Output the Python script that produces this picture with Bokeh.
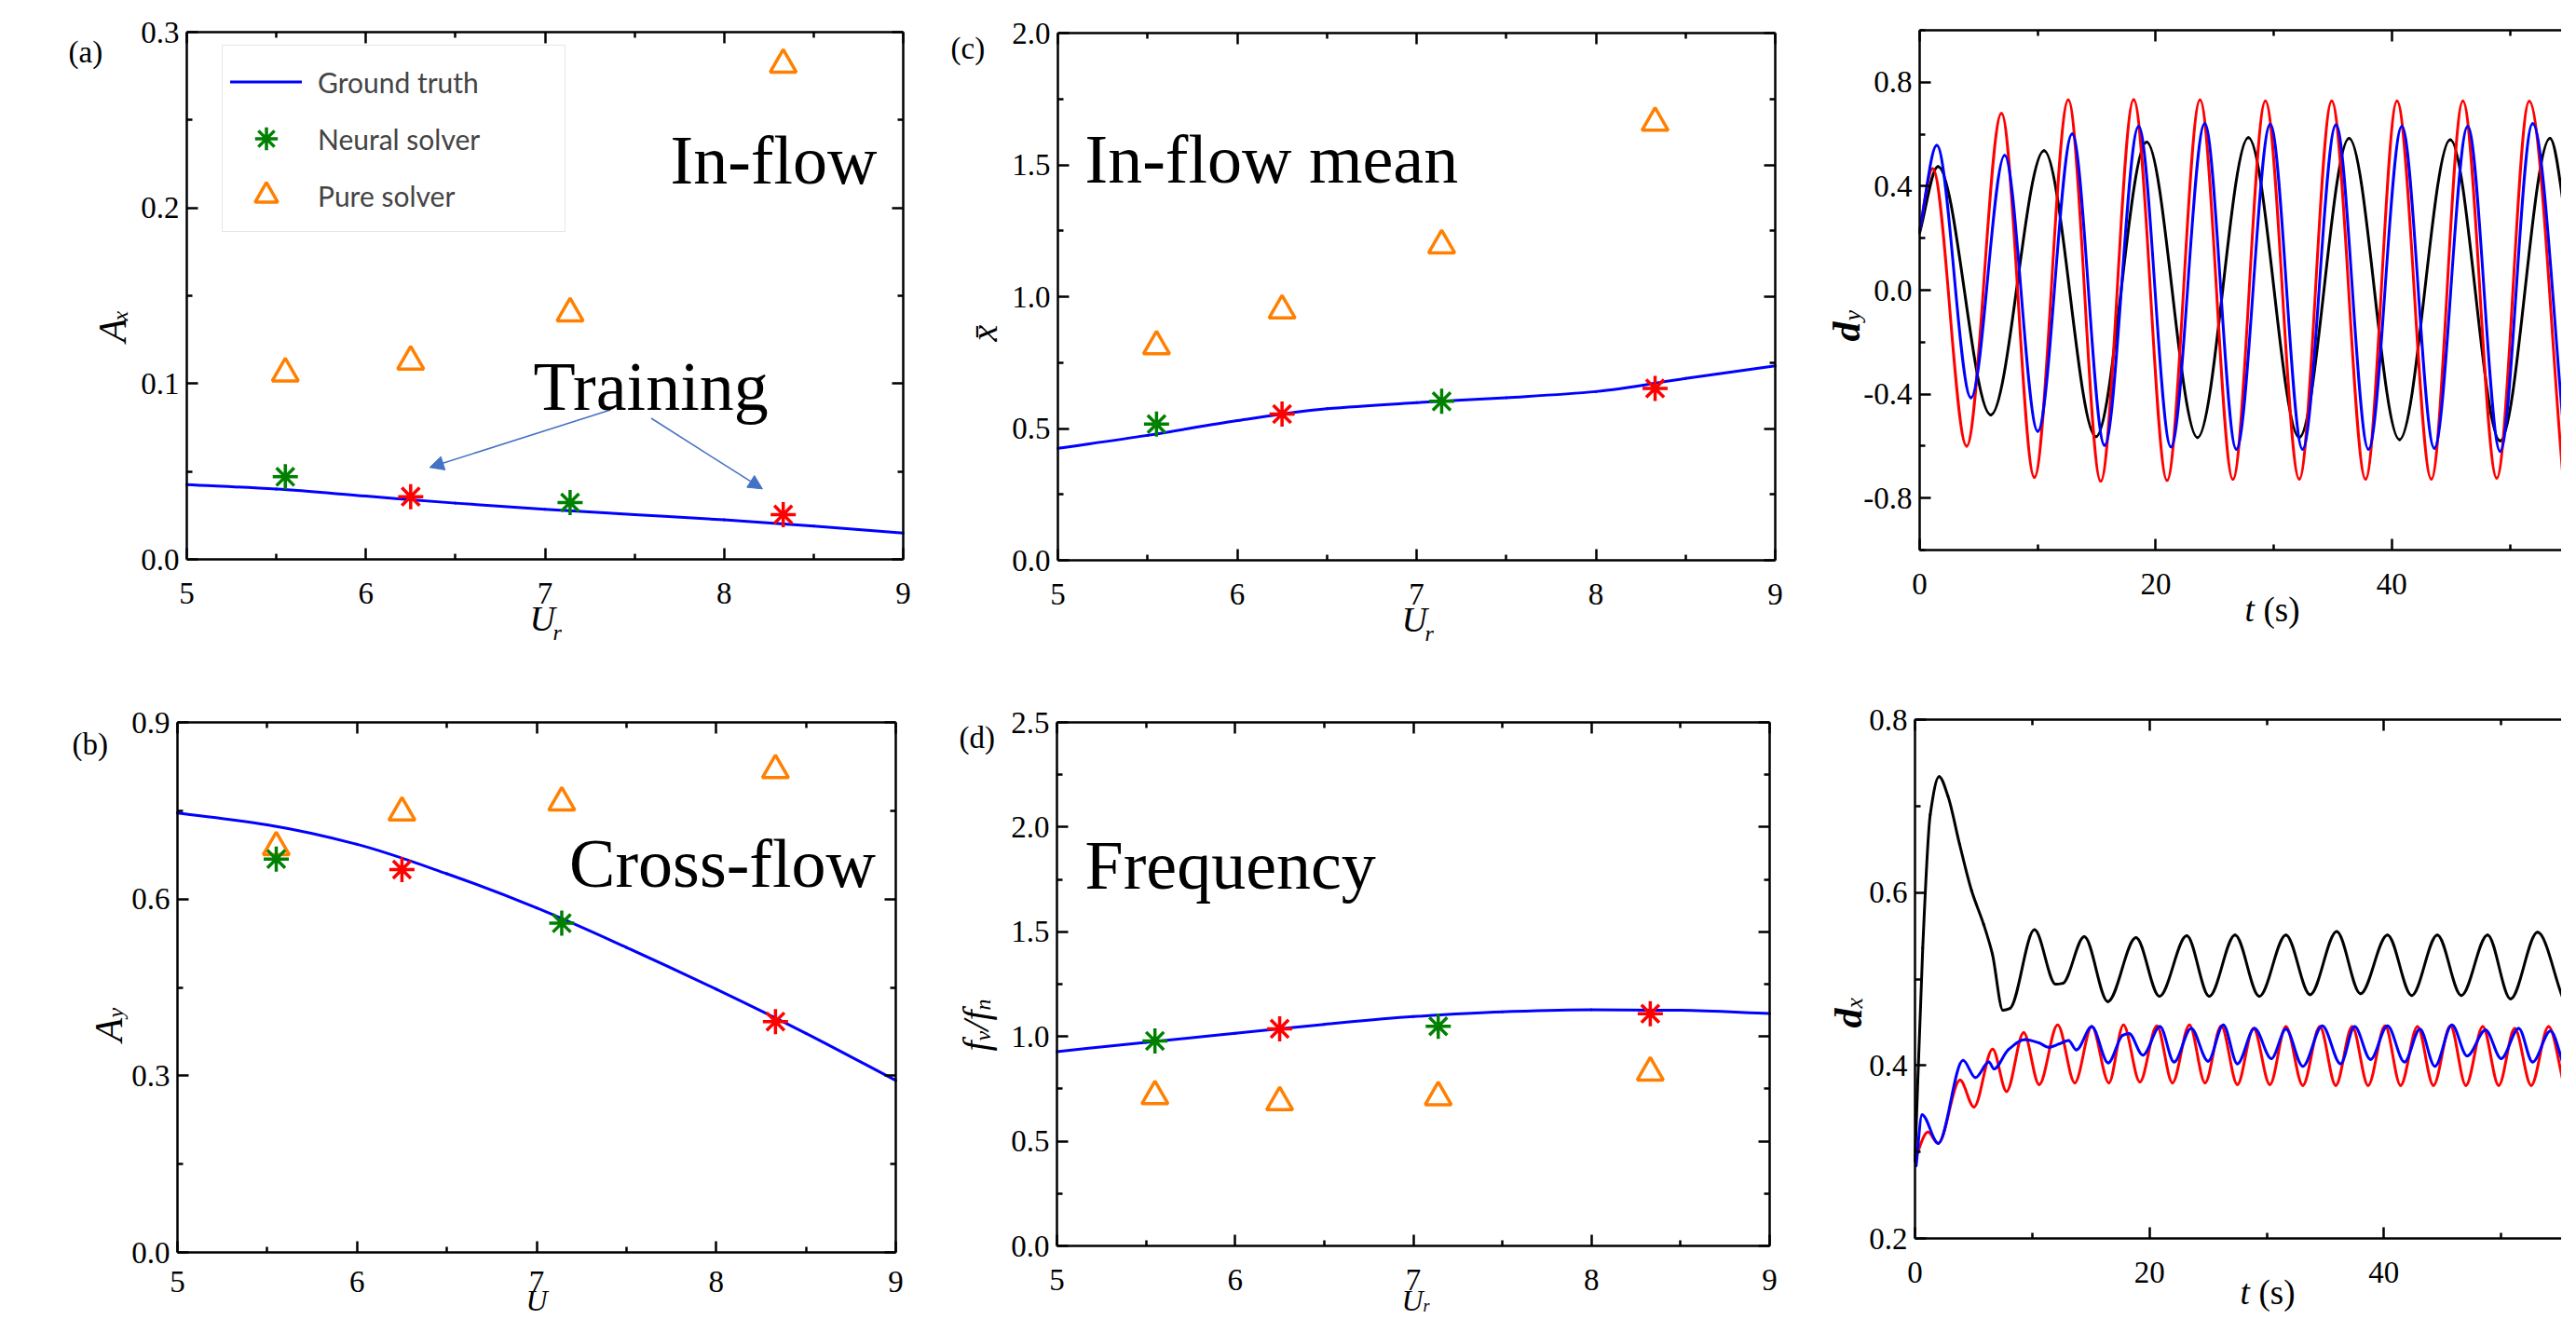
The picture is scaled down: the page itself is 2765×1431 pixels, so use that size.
import math
from bokeh.plotting import figure
from bokeh.models import (Range1d, LinearAxis, FixedTicker, PrintfTickFormatter,
                          CustomJSTickFormatter, Label, Legend, LegendItem, Arrow, NormalHead)
from bokeh.layouts import row, column
from bokeh.embed import file_html
from bokeh.resources import INLINE

# ---------------- data ----------------
ur_truth = [5.0, 5.5, 6.0, 6.5, 7.0, 7.5, 8.0, 8.5, 9.0]
ur_neural = [5.55, 7.14]
ur_train = [6.25, 8.33]
ur_pure = [5.55, 6.25, 7.14, 8.33]

ax_truth = [0.0425, 0.040, 0.036, 0.032, 0.0285, 0.0255, 0.0225, 0.019, 0.015]
ax_neural = [0.047, 0.0323]
ax_train = [0.0357, 0.0255]
ax_pure = [0.1058, 0.1126, 0.140, 0.2815]

ay_truth = [0.746, 0.726, 0.693, 0.643, 0.585, 0.518, 0.447, 0.372, 0.292]
ay_neural = [0.668, 0.559]
ay_train = [0.650, 0.392]
ay_pure = [0.688, 0.747, 0.764, 0.819]

xm_truth = [0.425, 0.474, 0.530, 0.575, 0.598, 0.617, 0.640, 0.690, 0.738]
xm_neural = [0.517, 0.603]
xm_train = [0.555, 0.652]
xm_pure = [0.812, 0.948, 1.195, 1.660]

fr_truth = [0.928, 0.972, 1.015, 1.058, 1.095, 1.118, 1.128, 1.125, 1.110]
fr_neural = [0.979, 1.049]
fr_train = [1.037, 1.109]
fr_pure = [0.715, 0.686, 0.710, 0.828]

# "Training" arrows (start -> end, data units of panel a)
arrow_x0 = [7.366, 7.593]
arrow_y0 = [0.0851, 0.0803]
arrow_x1 = [6.356, 8.214]
arrow_y1 = [0.0523, 0.0401]

# cross-flow displacement d_y(t): start point and extremes of each curve
dy_red_t = [0.0, 1.1, 3.98, 6.93, 9.72, 12.59, 15.34, 18.13, 20.96, 23.75, 26.54, 29.29,
            32.16, 34.91, 37.78, 40.44, 43.35, 46.02, 48.89, 51.64, 54.51]
dy_red = [0.23, 0.468, -0.600, 0.680, -0.720, 0.732, -0.735, 0.733, -0.732, 0.732, -0.728,
          0.728, -0.727, 0.728, -0.727, 0.728, -0.727, 0.728, -0.723, 0.727, -0.723]
dy_blue_t = [0.0, 1.45, 4.35, 7.2, 10.01, 12.92, 15.67, 18.55, 21.29, 24.15, 26.83, 29.70,
             32.44, 35.27, 38.02, 40.85, 43.6, 46.43, 49.18, 51.93, 54.72]
dy_blue = [0.23, 0.557, -0.414, 0.519, -0.543, 0.601, -0.597, 0.630, -0.603, 0.641, -0.612,
           0.638, -0.612, 0.636, -0.612, 0.630, -0.608, 0.630, -0.620, 0.641, -0.617]
dy_black_t = [0.0, 1.55, 6.03, 10.54, 14.93, 19.23, 23.54, 27.85, 32.16, 36.38, 40.65,
              44.95, 49.18, 53.4, 55.05]
dy_black = [0.22, 0.476, -0.480, 0.537, -0.564, 0.570, -0.567, 0.587, -0.567, 0.584,
            -0.575, 0.579, -0.580, 0.584, 0.17]

# in-line displacement d_x(t)
dx_red_t = [0.0, 1.1, 1.98, 3.84, 5.03, 6.62, 7.81, 9.27, 10.59, 12.17, 13.63, 15.08, 16.54,
            17.78, 19.18, 20.63, 21.96, 23.41, 24.74, 26.12, 27.5, 28.87, 30.27, 31.64, 33.08,
            34.53, 35.89, 37.29, 38.65, 40.1, 41.42, 42.86, 44.22, 45.67, 46.99, 48.43, 49.79,
            51.15, 52.56, 54.04, 55.36]
dx_red = [0.292, 0.323, 0.310, 0.383, 0.352, 0.419, 0.370, 0.438, 0.378, 0.447, 0.380, 0.445,
          0.380, 0.447, 0.381, 0.446, 0.380, 0.447, 0.380, 0.446, 0.378, 0.443, 0.378, 0.445,
          0.377, 0.445, 0.377, 0.445, 0.377, 0.446, 0.377, 0.445, 0.377, 0.446, 0.377, 0.445,
          0.377, 0.443, 0.377, 0.445, 0.377]
dx_blue_t = [0.1, 0.6, 1.98, 4.1, 5.16, 6.3, 6.75, 7.94, 9.39, 10.6, 11.4, 12.3, 13.1, 13.76,
             15.08, 16.48, 17.72, 18.25, 19.44, 20.9, 22.1, 23.55, 25.0, 26.3, 27.5, 28.96,
             30.4, 31.64, 33.08, 34.74, 36.3, 37.5, 38.86, 40.3, 41.75, 43.07, 44.35, 45.8,
             47.1, 48.67, 50.0, 51.5, 52.68, 54.2, 55.36]
dx_blue = [0.284, 0.343, 0.310, 0.406, 0.386, 0.404, 0.396, 0.418, 0.430, 0.426, 0.421, 0.425,
           0.429, 0.418, 0.445, 0.403, 0.435, 0.437, 0.412, 0.445, 0.404, 0.443, 0.405, 0.447,
           0.402, 0.443, 0.408, 0.442, 0.399, 0.446, 0.402, 0.445, 0.407, 0.446, 0.404, 0.442,
           0.399, 0.447, 0.411, 0.441, 0.408, 0.443, 0.404, 0.440, 0.399]
dx_black_t = [0.0, 0.66, 1.3, 2.06, 2.8, 3.8, 4.83, 5.86, 6.6, 7.5, 8.1, 10.19, 12.0, 12.6,
              14.44, 16.45, 18.85, 20.85, 23.18, 25.1, 27.3, 29.37, 31.64, 33.7, 35.97, 38.0,
              40.3, 42.37, 44.55, 46.6, 48.84, 50.8, 53.1, 55.2]
dx_black = [0.289, 0.536, 0.69, 0.734, 0.712, 0.656, 0.602, 0.563, 0.529, 0.464, 0.466, 0.557,
            0.494, 0.495, 0.549, 0.474, 0.548, 0.480, 0.550, 0.480, 0.551, 0.480, 0.551, 0.482,
            0.555, 0.483, 0.551, 0.481, 0.551, 0.481, 0.551, 0.477, 0.554, 0.480]

ur_ticks = [5, 6, 7, 8, 9]
ur_minor = [5.5, 6.5, 7.5, 8.5]
t_ticks = [0, 20, 40, 60]
t_minor = [10, 30, 50]

# ---------------- styling ----------------
SERIF = "Liberation Serif"
BLUE = "#0000FF"
GREEN = "#008000"
RED = "#FF0000"
ORANGE = "#FF8000"
ARROW = "#4472C4"
HALF = math.pi / 2


def make_fig(canvas, box, xdata, ydata):
    """canvas = (page_x, page_y, width, height); box = (left, top, right, bottom) page px
    of the axes box; xdata / ydata = data values at the box edges."""
    cx, cy, W, H = canvas
    bl, bt, br, bb = box
    x0, x1 = xdata
    y0, y1 = ydata
    sx = (br - bl) / (x1 - x0)
    sy = (bb - bt) / (y1 - y0)
    xr = Range1d(x0 - (bl - cx) / sx, x1 + (cx + W - br) / sx)
    yr = Range1d(y0 - (cy + H - bb) / sy, y1 + (bt - cy) / sy)
    p = figure(x_range=xr, y_range=yr, frame_width=W, frame_height=H,
               min_border_left=0, min_border_right=0, min_border_top=0, min_border_bottom=0,
               toolbar_location=None, output_backend="svg", title=None,
               background_fill_color="white", border_fill_color="white",
               x_axis_location=None, y_axis_location=None)
    p.xgrid.visible = False
    p.ygrid.visible = False
    p.outline_line_color = None
    p._frame_px = (bl, bb)
    p._box = (x0, x1, y0, y1)
    return p


def make_axis(ticks, minor, fmt, labels, standoff, loc, bounds):
    ax = LinearAxis(fixed_location=loc, bounds=bounds)
    ax.ticker = FixedTicker(ticks=ticks, minor_ticks=minor)
    ax.formatter = PrintfTickFormatter(format=fmt) if labels else CustomJSTickFormatter(code="return ''")
    ax.axis_line_width = 2.5
    ax.axis_line_color = "black"
    ax.major_tick_line_width = 2.5
    ax.minor_tick_line_width = 2.5
    ax.major_tick_line_color = "black"
    ax.minor_tick_line_color = "black"
    ax.major_tick_in = 12
    ax.major_tick_out = 0
    ax.minor_tick_in = 6
    ax.minor_tick_out = 0
    ax.major_label_text_font = SERIF
    ax.major_label_text_font_style = "normal"
    ax.major_label_text_font_size = "33px"
    ax.major_label_text_color = "black"
    ax.major_label_standoff = standoff
    ax.axis_label = None
    return ax


def frame_axes(p, xt, xm, xf, yt, ym, yf, right=True, xstand=25, ystand=8):
    x0, x1, y0, y1 = p._box
    p.add_layout(make_axis(xt, xm, xf, True, xstand, y0, (x0, x1)), "below")
    p.add_layout(make_axis(yt, ym, yf, True, ystand, x0, (y0, y1)), "left")
    p.add_layout(make_axis(xt, xm, xf, False, 0, y1, (x0, x1)), "above")
    if right:
        p.add_layout(make_axis(yt, ym, yf, False, 0, x1, (y0, y1)), "right")


def put(p, px, py, text, size, style="normal", angle=0.0, font=SERIF, color="black"):
    """Text whose baseline starts at page pixel (px, py); small corrections for the
    renderer's baseline placement."""
    fl, fb = p._frame_px
    x0, x1, y0, y1 = p._box
    if angle == 0.0:
        py = py - 0.18 * size
    else:
        py = py + 10
    p.add_layout(Label(x=x0, y=y0, x_units="data", y_units="data",
                       x_offset=px - fl, y_offset=fb - py, text=text, text_font=font,
                       text_font_size=f"{size}px", text_font_style=style, angle=angle,
                       text_align="left", text_baseline="alphabetic", text_color=color))


def smooth(p, xs, ys, color, width=3):
    """Draw a smooth curve through the read points with Bokeh's Bezier glyph
    (shape-preserving tangents, flat at the extremes)."""
    n = len(xs)
    m = []
    for i in range(n):
        if i == 0:
            m.append((ys[1] - ys[0]) / (xs[1] - xs[0]))
        elif i == n - 1:
            m.append((ys[-1] - ys[-2]) / (xs[-1] - xs[-2]))
        else:
            h0 = xs[i] - xs[i - 1]
            h1 = xs[i + 1] - xs[i]
            d0 = (ys[i] - ys[i - 1]) / h0
            d1 = (ys[i + 1] - ys[i]) / h1
            if d0 * d1 <= 0:
                m.append(0.0)
            else:
                w1 = 2 * h1 + h0
                w2 = h1 + 2 * h0
                m.append((w1 + w2) / (w1 / d0 + w2 / d1))
    hs = [xs[i + 1] - xs[i] for i in range(n - 1)]
    return p.bezier(x0=xs[:-1], y0=ys[:-1], x1=xs[1:], y1=ys[1:],
                    cx0=[xs[i] + hs[i] / 3 for i in range(n - 1)],
                    cy0=[ys[i] + m[i] * hs[i] / 3 for i in range(n - 1)],
                    cx1=[xs[i + 1] - hs[i] / 3 for i in range(n - 1)],
                    cy1=[ys[i + 1] - m[i + 1] * hs[i] / 3 for i in range(n - 1)],
                    line_color=color, line_width=width, line_cap="round")


def summary_panel(p, truth, neural, train, pure):
    r_line = smooth(p, ur_truth, truth, BLUE, 3)
    r_tri = p.scatter(ur_pure, pure, marker="triangle", size=28, fill_color=None,
                      line_color=ORANGE, line_width=3.5)
    r_neu = p.scatter(ur_neural, neural, marker="asterisk", size=27, line_color=GREEN, line_width=3.5)
    p.scatter(ur_train, train, marker="asterisk", size=27, line_color=RED, line_width=3.5)
    return r_line, r_neu, r_tri


# page layout: row 1 spans y 8..700, row 2 spans y 700..1423; columns 8 | 1012 | 1940 | 2757
# ---------------- (a) in-flow amplitude ----------------
pa = make_fig((8, 8, 1004, 692), (208, 42, 977, 608), (5, 9), (0, 0.3))
frame_axes(pa, ur_ticks, ur_minor, "%d", [0, 0.1, 0.2, 0.3], [0.05, 0.15, 0.25], "%.1f")
la, ln, lt = summary_panel(pa, ax_truth, ax_neural, ax_train, ax_pure)
for i in range(len(arrow_x0)):
    pa.add_layout(Arrow(x_start=arrow_x0[i], y_start=arrow_y0[i], x_end=arrow_x1[i], y_end=arrow_y1[i],
                        line_color=ARROW, line_width=1.5,
                        end=NormalHead(size=15, fill_color=ARROW, line_color=ARROW, line_width=1)))
legend = Legend(items=[LegendItem(label="Ground truth", renderers=[la]),
                       LegendItem(label="Neural solver", renderers=[ln]),
                       LegendItem(label="Pure solver", renderers=[lt])],
                location=(238, 443), orientation="vertical", padding=8, spacing=0, margin=0,
                glyph_width=77, glyph_height=61, label_height=61, label_width=257,
                label_standoff=17, label_text_font="Lato", label_text_font_size="30px",
                label_text_baseline="middle", border_line_color="#d0d0d0", border_line_width=1.5,
                background_fill_color="white", background_fill_alpha=1.0)
pa.add_layout(legend)
put(pa, 81, 69, "(a)", 33)
put(pa, 727, 193, "In-flow", 74)
put(pa, 580, 436, "Training", 74)
put(pa, 128, 365, "A", 42, style="italic", angle=HALF)
put(pa, 136, 342, "x", 24, style="italic", angle=HALF)
put(pa, 576, 678, "U", 38, style="italic")
put(pa, 601, 691, "r", 24, style="italic")

# ---------------- (c) in-flow mean ----------------
pc = make_fig((1012, 8, 928, 692), (1143, 43, 1913, 609), (5, 9), (0, 2.0))
frame_axes(pc, ur_ticks, ur_minor, "%d", [0, 0.5, 1.0, 1.5, 2.0], [0.25, 0.75, 1.25, 1.75], "%.1f")
summary_panel(pc, xm_truth, xm_neural, xm_train, xm_pure)
put(pc, 1028, 65, "(c)", 33)
put(pc, 1172, 192, "In-flow mean", 74)
put(pc, 1064, 364, "x\u0304", 40, style="italic", angle=HALF)
put(pc, 1512, 679, "U", 38, style="italic")
put(pc, 1537, 692, "r", 24, style="italic")

# ---------------- (e) d_y time series ----------------
pe = make_fig((1940, 8, 817, 692), (2068, 40, 2757, 598), (0, 54.38), (-1.0, 1.0))
frame_axes(pe, t_ticks, t_minor, "%d", [-0.8, -0.4, 0.0, 0.4, 0.8],
           [-1.0, -0.6, -0.2, 0.2, 0.6, 1.0], "%.1f", right=False)
smooth(pe, dy_black_t, dy_black, "black")
smooth(pe, dy_red_t, dy_red, RED)
smooth(pe, dy_blue_t, dy_blue, BLUE)
put(pe, 1989, 364, "d", 42, style="bold italic", angle=HALF)
put(pe, 1996, 342, "y", 26, style="italic", angle=HALF)
put(pe, 2417, 669, "t", 37, style="italic")
put(pe, 2437, 669, "(s)", 37)

# ---------------- (b) cross-flow amplitude ----------------
pb = make_fig((8, 700, 1004, 723), (198, 783, 969, 1352), (5, 9), (0, 0.9))
frame_axes(pb, ur_ticks, ur_minor, "%d", [0, 0.3, 0.6, 0.9], [0.15, 0.45, 0.75], "%.1f", xstand=20)
summary_panel(pb, ay_truth, ay_neural, ay_train, ay_pure)
put(pb, 85, 812, "(b)", 33)
put(pb, 618.6, 947.6, "Cross-flow", 74)
put(pb, 124, 1116, "A", 42, style="italic", angle=HALF)
put(pb, 131, 1090, "y", 24, style="italic", angle=HALF)
put(pb, 572, 1409, "U", 32, style="italic")

# ---------------- (d) frequency ----------------
pd_ = make_fig((1012, 700, 928, 723), (1142, 783, 1907, 1345), (5, 9), (0, 2.5))
frame_axes(pd_, ur_ticks, ur_minor, "%d", [0, 0.5, 1.0, 1.5, 2.0, 2.5],
           [0.25, 0.75, 1.25, 1.75, 2.25], "%.1f")
summary_panel(pd_, fr_truth, fr_neural, fr_train, fr_pure)
put(pd_, 1037, 805, "(d)", 33)
put(pd_, 1172, 949.8, "Frequency", 74)
put(pd_, 1055, 1126, "f", 40, style="italic", angle=HALF)
put(pd_, 1062, 1115, "v", 24, style="italic", angle=HALF)
put(pd_, 1055, 1104, "/", 40, style="italic", angle=HALF)
put(pd_, 1055, 1093, "f", 40, style="italic", angle=HALF)
put(pd_, 1062, 1082, "n", 24, style="italic", angle=HALF)
put(pd_, 1512, 1409, "U", 32, style="italic")
put(pd_, 1535, 1413, "r", 18, style="italic")

# ---------------- (f) d_x time series ----------------
pf = make_fig((1940, 700, 817, 723), (2063, 780, 2757, 1337), (0, 55.15), (0.2, 0.8))
frame_axes(pf, t_ticks, t_minor, "%d", [0.2, 0.4, 0.6, 0.8], [0.3, 0.5, 0.7], "%.1f", right=False)
smooth(pf, dx_black_t, dx_black, "black")
smooth(pf, dx_red_t, dx_red, RED)
smooth(pf, dx_blue_t, dx_blue, BLUE)
put(pf, 1991, 1101, "d", 42, style="bold italic", angle=HALF)
put(pf, 1998, 1080, "x", 26, style="italic", angle=HALF)
put(pf, 2412, 1402, "t", 37, style="italic")
put(pf, 2432, 1402, "(s)", 37)

layout = column(row(pa, pc, pe), row(pb, pd_, pf))
open("out.html", "w").write(file_html(layout, INLINE))
